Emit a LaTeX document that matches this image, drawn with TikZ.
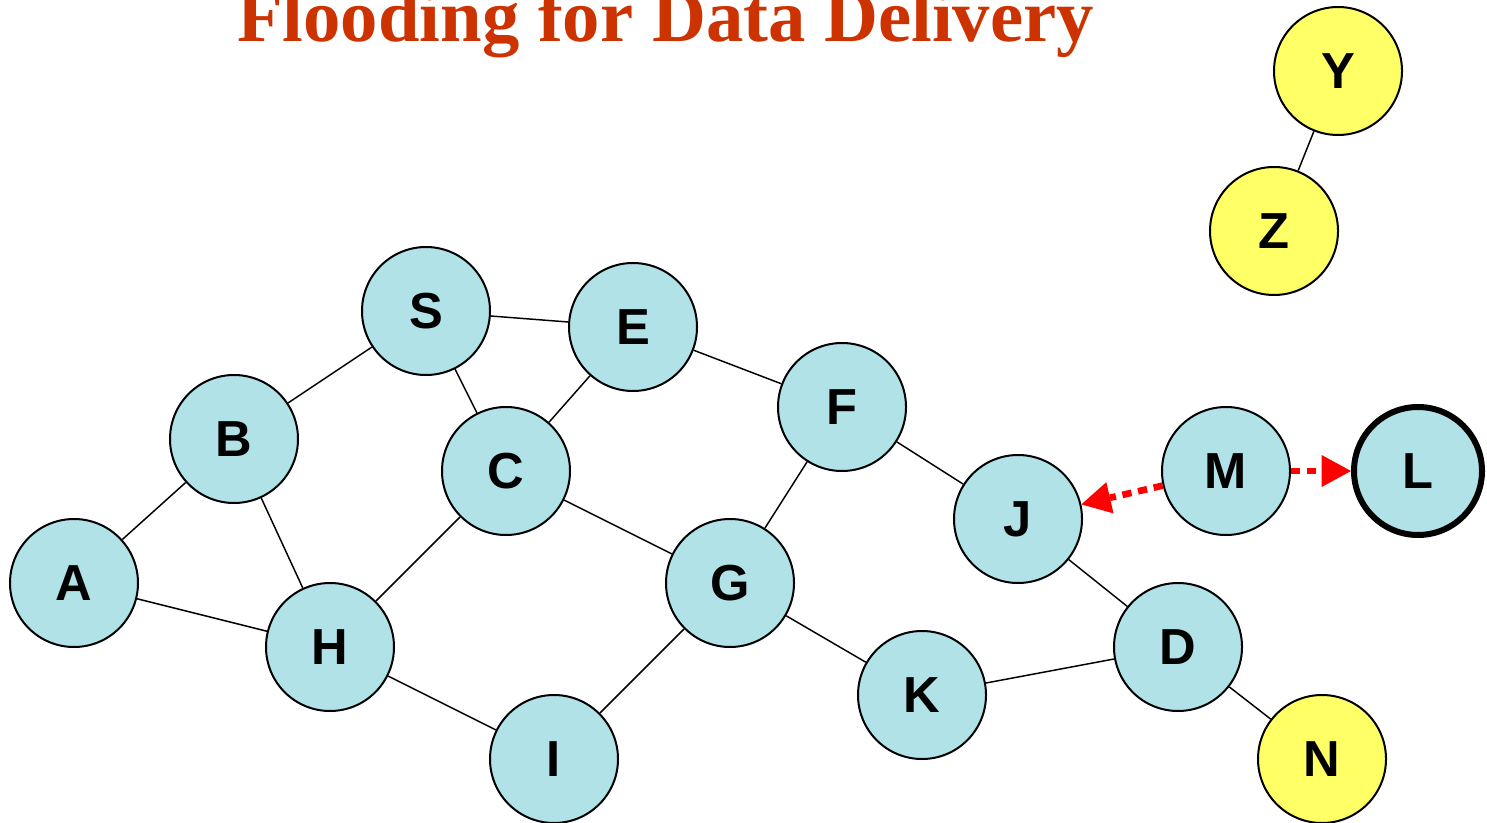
\documentclass[tikz,border=0pt]{standalone}
\usepackage{fontspec}
\setmainfont{Liberation Sans}
\newfontfamily\titlefont{Liberation Serif}
\usetikzlibrary{arrows.meta}

\definecolor{titlered}{RGB}{204,51,0}
\definecolor{dropcyan}{RGB}{176,226,232}
\definecolor{nodeyellow}{RGB}{255,255,102}
\definecolor{linkred}{RGB}{255,0,0}

\tikzset{every picture/.style={line width=0.75pt}}
\tikzset{
  hostnode/.style={circle,draw=black,line width=1.5pt,minimum size=96pt,inner sep=0pt,
    font=\bfseries\fontsize{38}{38}\selectfont},
  cyannode/.style={hostnode,fill=dropcyan},
  yellownode/.style={hostnode,fill=nodeyellow},
  link/.style={draw=black,line width=1.1pt},
  flood/.style={draw=linkred,line width=5pt,dash pattern=on 7pt off 5pt,
    -{Triangle[length=22pt,width=24pt,line width=0pt]}}
}

\begin{document}
\begin{tikzpicture}[x=0.75pt,y=0.75pt,yscale=-1,xscale=1]
\useasboundingbox (0,0) rectangle (1487,823);

% Text Node
\node [anchor=base,inner sep=0pt,text=titlered,font=\titlefont\bfseries\fontsize{56}{56}\selectfont] (title) at (665.5,42) {Flooding for Data Delivery};

%Shape: Circle
\node [cyannode] (S) at (426,311) {S};
\node [cyannode] (E) at (633,327) {E};
\node [cyannode] (B) at (234,439) {B};
\node [cyannode] (C) at (506,471) {C};
\node [cyannode] (F) at (842,407) {F};
\node [cyannode] (J) at (1018,519) {J};
\node [cyannode] (M) at (1226,471) {M};
\node [cyannode,line width=4.5pt] (L) at (1418,471) {L};
\node [cyannode] (A) at (74,583) {A};
\node [cyannode] (H) at (330,647) {H};
\node [cyannode] (G) at (730,583) {G};
\node [cyannode] (D) at (1178,647) {D};
\node [cyannode] (K) at (922,695) {K};
\node [cyannode] (I) at (554,759) {I};
%Shape: Circle (yellow)
\node [yellownode] (N) at (1322,759) {N};
\node [yellownode] (Y) at (1338,71) {Y};
\node [yellownode] (Z) at (1274,231) {Z};

%Straight Lines
\draw [link] (S) -- (E);
\draw [link] (S) -- (B);
\draw [link] (S) -- (C);
\draw [link] (E) -- (C);
\draw [link] (E) -- (F);
\draw [link] (B) -- (A);
\draw [link] (B) -- (H);
\draw [link] (C) -- (H);
\draw [link] (C) -- (G);
\draw [link] (A) -- (H);
\draw [link] (F) -- (G);
\draw [link] (F) -- (J);
\draw [link] (H) -- (I);
\draw [link] (G) -- (I);
\draw [link] (G) -- (K);
\draw [link] (K) -- (D);
\draw [link] (J) -- (D);
\draw [link] (D) -- (N);
\draw [link] (Y) -- (Z);

%Dotted Arrows
\draw [flood] (M) -- (J);
\draw [flood] (M) -- (L);

\end{tikzpicture}
\end{document}
